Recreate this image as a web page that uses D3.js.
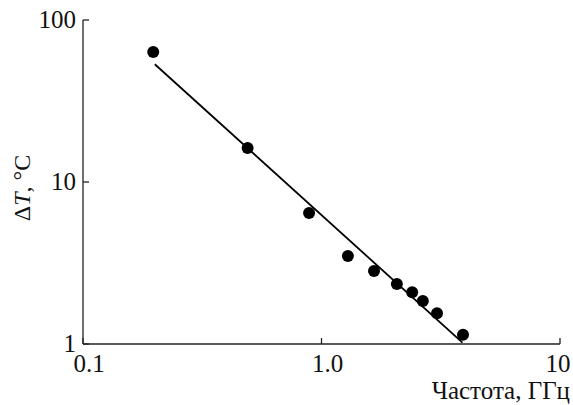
<!DOCTYPE html>
<html>
<head>
<meta charset="utf-8">
<script src="https://cdn.jsdelivr.net/npm/d3@7"></script>
<style>
  body { margin: 0; background: #fff; }
  svg { display: block; }
</style>
</head>
<body>
<svg id="chart" width="573" height="405"></svg>
<script>
// measured points: frequency (GHz) vs temperature rise (°C)
const freq = [0.197, 0.49, 0.887, 1.29, 1.66, 2.07, 2.40, 2.66, 3.05, 3.92];
const deltaT = [63.5, 16.2, 6.44, 3.49, 2.82, 2.35, 2.09, 1.84, 1.55, 1.14];

// fitted power-law line end points
const fitX = [0.2, 3.9];
const fitY = [53.3, 1.02];

const xTicks = [0.1, 1, 10];
const xTickLabels = ["0.1", "1.0", "10"];
const yTicks = [1, 10, 100];
const yTickLabels = ["1", "10", "100"];

const font = "Liberation Serif";

const svg = d3.select("#chart")
    .attr("font-family", font);

let x = d3.scaleLog()
    .domain([0.1, 10])
    .range([83, 560]);
let y = d3.scaleLog()
    .domain([1, 100])
    .range([344, 20]);

// axes lines
let axes = svg.append("g")
    .attr("stroke", "#222")
    .attr("stroke-width", 1.3)
    .attr("fill", "none");

axes.append("line")
    .attr("x1", x(0.1)).attr("x2", x(10))
    .attr("y1", y(1)).attr("y2", y(1));
axes.append("line")
    .attr("x1", x(0.1)).attr("x2", x(0.1))
    .attr("y1", y(1)).attr("y2", y(100));

// inward ticks
axes.selectAll(".xt")
    .data(xTicks)
    .join("line")
    .attr("class", "xt")
    .attr("x1", d => x(d)).attr("x2", d => x(d))
    .attr("y1", y(1)).attr("y2", y(1) - 6);
axes.selectAll(".yt")
    .data(yTicks)
    .join("line")
    .attr("class", "yt")
    .attr("x1", x(0.1)).attr("x2", x(0.1) + 6)
    .attr("y1", d => y(d)).attr("y2", d => y(d));

// tick labels
svg.selectAll(".xl")
    .data(xTicks)
    .join("text")
    .attr("class", "xl")
    .attr("font-family", font)
    .attr("x", d => x(d) + (d < 10 ? 6 : -2))
    .attr("y", y(1) + 28)
    .attr("text-anchor", "middle")
    .attr("font-size", 25)
    .attr("fill", "#111")
    .text((d, i) => xTickLabels[i]);

svg.selectAll(".yl")
    .data(yTicks)
    .join("text")
    .attr("class", "yl")
    .attr("font-family", font)
    .attr("x", x(0.1) - 7)
    .attr("y", d => y(d) + 8)
    .attr("text-anchor", "end")
    .attr("font-size", 25)
    .attr("fill", "#111")
    .text((d, i) => yTickLabels[i]);

// axis titles
svg.append("text")
    .attr("font-family", font)
    .attr("x", 570)
    .attr("y", 399)
    .attr("text-anchor", "end")
    .attr("font-size", 25)
    .attr("fill", "#111")
    .text("Частота, ГГц");

let yTitle = svg.append("text")
    .attr("font-family", font)
    .attr("transform", "translate(30,188) rotate(-90)")
    .attr("text-anchor", "middle")
    .attr("font-size", 24)
    .attr("fill", "#111");
yTitle.append("tspan").text("Δ");
yTitle.append("tspan").attr("font-style", "italic").text("T");
yTitle.append("tspan").text(", °C");

// fit line
let line = d3.line()
    .x(d => x(d[0]))
    .y(d => y(d[1]));

svg.append("path")
    .datum(d3.zip(fitX, fitY))
    .attr("d", line)
    .attr("fill", "none")
    .attr("stroke", "#000")
    .attr("stroke-width", 1.8);

// points
svg.selectAll(".pt")
    .data(d3.zip(freq, deltaT))
    .join("circle")
    .attr("class", "pt")
    .attr("cx", d => x(d[0]))
    .attr("cy", d => y(d[1]))
    .attr("r", 6)
    .attr("fill", "#000");
</script>
</body>
</html>
